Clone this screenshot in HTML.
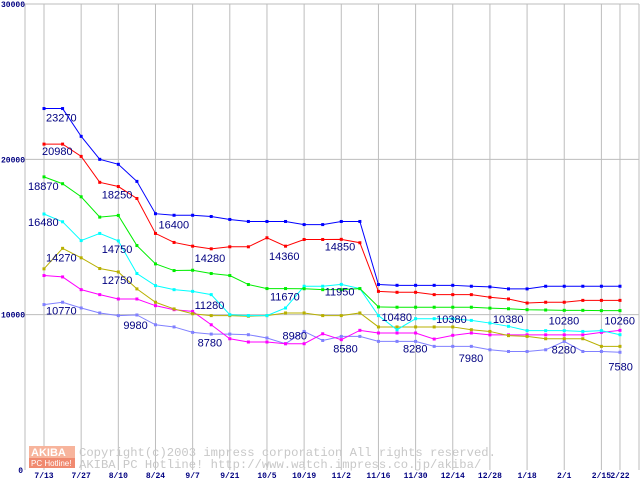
<!DOCTYPE html>
<html><head><meta charset="utf-8"><style>
html,body{margin:0;padding:0;background:#fff;}
svg{display:block;}
.lbl{font-family:"Liberation Sans",sans-serif;font-size:11px;fill:#000080;}
.ax{font-family:"Liberation Mono",monospace;font-size:8px;font-weight:bold;fill:#000080;}
</style></head><body>
<svg id="chart" width="640" height="480" viewBox="0 0 640 480" xmlns="http://www.w3.org/2000/svg">
<g id="grid"></g>
<g id="wm">
<rect x="29" y="446" width="46" height="12" fill="#f7b49c"/>
<text x="31" y="456" font-family="Liberation Sans,sans-serif" font-size="11" font-weight="bold" fill="#fff">AKIBA</text>
<rect x="29" y="458" width="46" height="10" fill="#f08a70"/>
<text x="31" y="466" font-family="Liberation Sans,sans-serif" font-size="8" fill="#fff">PC Hotline!</text>
<text x="79" y="456" font-family="Liberation Mono,monospace" font-size="12.2" fill="#c8c8c8">Copyright(c)2003 impress corporation All rights reserved.</text>
<text x="79" y="468" font-family="Liberation Mono,monospace" font-size="12.2" fill="#c8c8c8">AKIBA PC Hotline!  http://www.watch.impress.co.jp/akiba/</text>
</g>
<g id="series"></g>
<g id="labels"></g>
</svg>
<script>
const yTicks=[0,10000,20000,30000];
const yTickLabels=["0","10000","20000","30000"];
const xLabels=["7/13","7/27","8/10","8/24","9/7","9/21","10/5","10/19","11/2","11/16","11/30","12/14","12/28","1/18","2/1","2/15","2/22"];
const xLabelIdx=[0,2,4,6,8,10,12,14,16,18,20,22,24,26,28,30,31];
const sBlue=[23270,23270,21480,20000,19680,18580,16500,16400,16400,16320,16130,16000,16000,16000,15800,15800,16000,16000,11940,11890,11890,11890,11890,11830,11790,11660,11660,11830,11830,11830,11830,11830];
const sRed=[20980,20980,20190,18520,18250,17480,15230,14650,14410,14240,14370,14370,14950,14410,14840,14840,14850,14630,11500,11440,11440,11290,11290,11290,11120,11010,10750,10800,10800,10920,10920,10920];
const sGreen=[18870,18430,17590,16280,16390,14450,13270,12840,12860,12650,12520,11940,11680,11680,11670,11610,11610,11680,10500,10480,10480,10480,10480,10480,10420,10380,10320,10300,10280,10280,10260,10260];
const sCyan=[16480,15980,14770,15230,14750,12650,11870,11610,11500,11290,10000,9940,9940,10430,11830,11830,11950,11680,9940,9030,9740,9740,9740,9630,9460,9250,8970,8970,8970,8920,8970,8710];
const sOlive=[12950,14270,13660,12970,12750,11660,10800,10370,10060,9940,9940,9900,9940,10110,10110,9940,9940,10110,9210,9210,9210,9210,9210,9030,8920,8650,8600,8450,8450,8450,7960,7960];
const sMagenta=[12520,12430,11610,11290,11010,11010,10580,10320,10210,9350,8450,8240,8240,8130,8130,8770,8390,8990,8820,8820,8820,8430,8670,8820,8700,8700,8700,8700,8700,8700,8860,8990];
const sLav=[10650,10800,10430,10110,9940,9980,9350,9210,8860,8750,8750,8710,8500,8130,8920,8340,8600,8600,8280,8280,8280,7960,7960,7960,7740,7630,7630,7740,8280,7630,7630,7580];
const labelTexts=["23270","20980","18870","16480","14270","10770","18250","14750","12750","9980","16400","14280","11280","8780","14360","11670","8980","14850","11950","8580","10480","8280","10380","7980","10380","10280","8280","10260","7580"];
const labelIdx=[0,0,0,0,0,0,3,3,3,4,6,8,8,8,12,12,13,15,15,16,18,19,21,22,24,27,27,30,30];
const labelVals=[23270,20980,18870,16480,14270,10770,18250,14750,12750,9980,16400,14280,11280,8780,14360,11670,8980,14850,11950,8580,10480,8280,10380,7980,10380,10280,8280,10260,7580];
const labelDx=[2,-2,-16,-16,2,2,2,2,2,5,3,2,2,5,2,3,-3,2,2,-8,3,6,2,6,3,3,6,3,7];
const labelDy=[13,11,13,12,13,12,12,12,12,14,13,14,14,13,13,12,9,11,11,16,14,11,14,16,14,14,12,14,18];
const NS="http://www.w3.org/2000/svg";
const X=i=>44+i*18.58;
const Y=v=>470-v*0.015533;
function mk(tag,attrs,parent){const e=document.createElementNS(NS,tag);for(const k in attrs)e.setAttribute(k,attrs[k]);parent.appendChild(e);return e;}
const grid=document.getElementById('grid');
let l=mk('line',{x1:25,y1:Y(30000),x2:25,y2:470,stroke:'#bdbdbd','stroke-width':1},grid);


l=mk('line',{x1:639,y1:Y(30000),x2:639,y2:470,stroke:'#bdbdbd','stroke-width':1},grid);


yTicks.forEach((v,k)=>{
  if(v>0){const g=mk('line',{x1:25,y1:Y(v),x2:639,y2:Y(v),stroke:'#bdbdbd','stroke-width':1},grid);
  
  }
  const t=mk('text',{x:v===0?23:25,y:Y(v)+3,'text-anchor':'end',class:'ax'},grid);
  t.textContent=yTickLabels[k];
  
  
});
xLabelIdx.forEach((i,k)=>{
  const g=mk('line',{x1:X(i),y1:Y(30000),x2:X(i),y2:470,stroke:'#bdbdbd','stroke-width':1},grid);
  
  
  const t=mk('text',{x:X(i),y:478,'text-anchor':'middle',class:'ax'},grid);
  t.textContent=xLabels[k];
  
  
});
const sg=document.getElementById('series');
const all=[[sLav,'#8080ff','lavender'],[sMagenta,'#ff00ff','magenta'],[sOlive,'#b8b000','olive'],[sCyan,'#00ffff','cyan'],[sGreen,'#00ee00','green'],[sRed,'#ff0000','red'],[sBlue,'#0000ff','blue']];
all.forEach(([d,c,n])=>{
  const p=mk('polyline',{points:d.map((v,i)=>X(i)+','+Y(v)).join(' '),fill:'none',stroke:c,'stroke-width':1},sg);
  
  
  d.forEach((v,i)=>{
    const r=mk('rect',{x:X(i)-1.5,y:Y(v)-1.5,width:3,height:3,fill:c},sg);
    
    
  });
});
const lg=document.getElementById('labels');
labelTexts.forEach((s,k)=>{
  const t=mk('text',{x:X(labelIdx[k])+labelDx[k],y:Y(labelVals[k])+labelDy[k],class:'lbl'},lg);
  t.textContent=s;
  
  
});
</script>
</body></html>
